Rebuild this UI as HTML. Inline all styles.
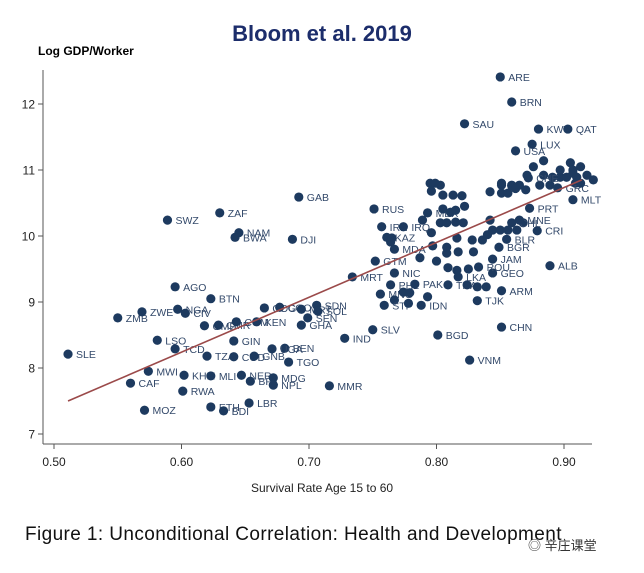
<!DOCTYPE html>
<html><head><meta charset="utf-8">
<style>
body{margin:0;background:#fff;width:644px;height:573px;overflow:hidden;font-family:"Liberation Sans",sans-serif;}
#wrap{position:relative;width:644px;height:573px;}
.title{position:absolute;left:0;width:644px;top:21px;text-align:center;font-size:22px;font-weight:bold;color:#1c2d6b;}
.ytitle{position:absolute;left:38px;top:44px;font-size:12px;font-weight:bold;color:#000;}
.caption{position:absolute;left:25px;top:524px;font-size:19px;letter-spacing:0.4px;color:#111;}
.wm{position:absolute;left:528px;top:535px;font-size:13px;color:#333;font-family:"Liberation Sans","Noto Sans CJK SC",sans-serif;}
</style></head><body>
<div id="wrap">
<div class="title">Bloom et al. 2019</div>
<div class="ytitle">Log GDP/Worker</div>
<svg id="chart" width="644" height="573" style="position:absolute;left:0;top:0"></svg>
<div class="caption">Figure 1: Unconditional Correlation: Health and Development</div>
<div class="wm">◎ 辛庄课堂</div>
</div>
<script>
const xTicks=[0.5,0.6,0.7,0.8,0.9];
const xTickLabels=["0.50","0.60","0.70","0.80","0.90"];
const yTicks=[7,8,9,10,11,12];
const yTickLabels=["7","8","9","10","11","12"];
const codes=["SLE","ZMB","ZWE","SWZ","AGO","NGA","CIV","BTN","LSO","TCD","MWI","CAF","MOZ","RWA","KHM","MLI","ETH","BDI","LBR","NER","BFA","MDG","NPL","MMR","TZA","COD","GNB","BEN","TGO","UGA","GIN","GMB","CMR","COM","KEN","COG","CGO","MRT","SDN","SOL","SEN","GHA","IND","GAB","ZAF","NAM","BWA","DJI","MRT","SLV","BGD","VNM","CHN","ALB","MLT","RUS","SAU","ARE","BRN","KWT","QAT","LUX","USA","TJK","ARM","JAM","GEO","ROU","PRT","CRI","BGR","IRN","IRQ","KAZ","","","MDA","GTM","NIC","PHL","MNG","","STP","","","PAK","","IDN","","THA","","","","LKA","","","","","","","","","","","","","","BLR","","","","","","","MEX","","","","","","","","","","","","CHL","MNE","","","","","","","","","","","","","","","","","","","","","","","","","","","","","","","","GRC","","CHE","","","","","","","","SWE","","CYP","",""];
const xs=[.511,.550,.569,.589,.595,.597,.603,.623,.581,.595,.574,.560,.571,.601,.602,.623,.623,.633,.653,.647,.654,.672,.672,.716,.620,.641,.657,.681,.684,.671,.641,.618,.629,.643,.659,.665,.677,.694,.706,.707,.699,.694,.728,.692,.630,.645,.642,.687,.734,.750,.801,.826,.851,.889,.907,.751,.822,.850,.859,.880,.903,.875,.862,.832,.851,.844,.844,.833,.873,.879,.849,.757,.774,.761,.765,.764,.767,.752,.767,.764,.756,.767,.759,.774,.779,.783,.778,.788,.793,.809,.824,.832,.839,.817,.809,.816,.825,.787,.800,.808,.817,.829,.797,.808,.816,.828,.836,.855,.796,.803,.808,.815,.821,.789,.793,.822,.805,.811,.815,.842,.840,.844,.850,.856,.863,.868,.859,.865,.795,.799,.803,.796,.805,.813,.820,.842,.851,.851,.859,.865,.856,.871,.881,.889,.897,.907,.909,.884,.876,.905,.907,.897,.913,.884,.891,.902,.910,.918,.923,.895,.913,.872,.851,.859,.862,.870];
const ys=[8.21,8.76,8.85,10.24,9.23,8.89,8.83,9.05,8.42,8.29,7.95,7.77,7.36,7.65,7.89,7.88,7.41,7.35,7.47,7.89,7.80,7.85,7.74,7.73,8.18,8.17,8.18,8.30,8.09,8.29,8.41,8.64,8.65,8.70,8.70,8.91,8.92,8.89,8.95,8.86,8.76,8.65,8.45,10.59,10.35,10.05,9.98,9.95,9.38,8.58,8.50,8.12,8.62,9.55,10.55,10.41,11.70,12.41,12.03,11.62,11.62,11.39,11.29,9.02,9.17,9.65,9.44,9.53,10.42,10.08,9.83,10.14,10.14,9.98,9.97,9.91,9.80,9.62,9.44,9.26,9.12,9.03,8.95,9.15,9.14,9.27,8.98,8.95,9.08,9.26,9.26,9.23,9.23,9.38,9.52,9.48,9.50,9.67,9.62,9.74,9.76,9.76,9.85,9.83,9.97,9.94,9.94,9.95,10.05,10.20,10.20,10.21,10.20,10.24,10.35,10.45,10.41,10.36,10.39,10.24,10.02,10.09,10.09,10.09,10.09,10.20,10.20,10.24,10.80,10.80,10.77,10.68,10.62,10.62,10.61,10.67,10.80,10.65,10.77,10.77,10.65,10.92,10.77,10.77,10.89,10.95,10.80,11.14,11.05,11.11,11.00,11.00,11.05,10.92,10.89,10.89,10.89,10.92,10.85,10.73,10.80,10.88,10.77,10.76,10.72,10.70];
const fitX=[0.511,0.914];
const fitY=[7.50,10.85];

const svg=document.getElementById('chart');
const NS='http://www.w3.org/2000/svg';
function sx(v){return 54+(v-0.5)*1275;}
function sy(v){return 434-(v-7)*66;}
function mk(t,a){const e=document.createElementNS(NS,t);for(const k in a)e.setAttribute(k,a[k]);svg.appendChild(e);return e;}
let ax=mk('line',{x1:43,y1:70,x2:43,y2:444,stroke:'#555','stroke-width':1});


let bx=mk('line',{x1:43,y1:444,x2:592,y2:444,stroke:'#555','stroke-width':1});


yTicks.forEach((v,i)=>{
  const t=mk('line',{x1:38,y1:sy(v),x2:43,y2:sy(v),stroke:'#555'});
  
  
  const l=mk('text',{x:35,y:sy(v)+4.5,'text-anchor':'end','font-size':12,fill:'#222','font-family':'Liberation Sans, sans-serif'});
  l.textContent=yTickLabels[i];
  
  
});
xTicks.forEach((v,i)=>{
  const t=mk('line',{x1:sx(v),y1:444,x2:sx(v),y2:449,stroke:'#555'});
  
  
  const l=mk('text',{x:sx(v),y:466,'text-anchor':'middle','font-size':12,fill:'#222','font-family':'Liberation Sans, sans-serif'});
  l.textContent=xTickLabels[i];
  
  
});
const xt=mk('text',{x:322,y:492,'text-anchor':'middle','font-size':12,fill:'#222','font-family':'Liberation Sans, sans-serif'});
xt.textContent='Survival Rate Age 15 to 60';


xs.forEach((x,i)=>{
  const c=mk('circle',{cx:sx(x),cy:sy(ys[i]),r:4.6,fill:'#1d3a5f'});
  
  
  if(codes[i]){
    const l=mk('text',{x:sx(x)+8,y:sy(ys[i])+4,'font-size':10.5,fill:'#33496a','font-family':'Liberation Sans, sans-serif'});
    l.textContent=codes[i];
    
    
  }
});
const fl=mk('line',{x1:sx(fitX[0]),y1:sy(fitY[0]),x2:sx(fitX[1]),y2:sy(fitY[1]),stroke:'#9b4a4a','stroke-width':1.6});


</script>
</body></html>
